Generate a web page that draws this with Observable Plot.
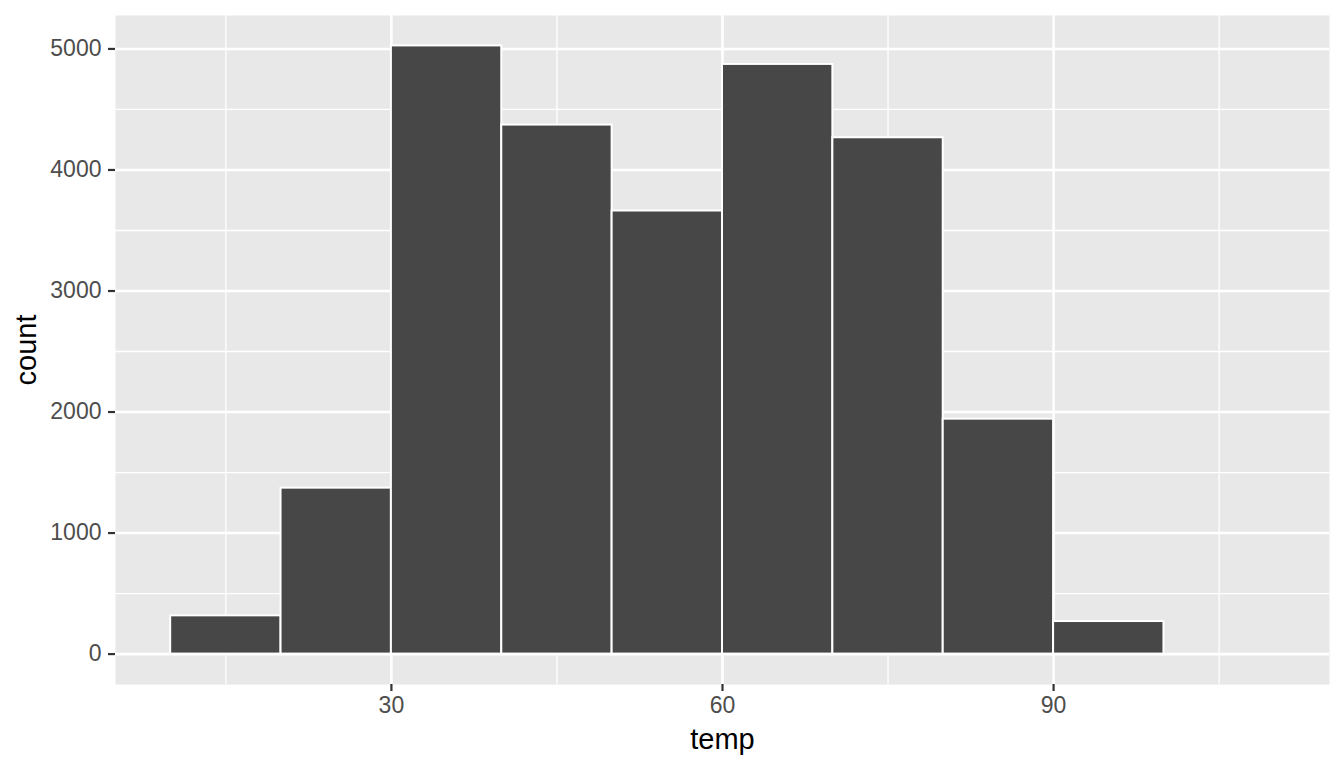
<!DOCTYPE html>
<html>
<head>
<meta charset="utf-8">
<script src="https://cdn.jsdelivr.net/npm/d3@7"></script>
<script src="https://cdn.jsdelivr.net/npm/@observablehq/plot@0.6"></script>
<style>
  html, body { margin: 0; padding: 0; background: #ffffff; }
  #chart svg { display: block; }
</style>
</head>
<body>
<div id="chart"></div>
<script>
// Histogram bins (temp) and counts
const binEdges = [10, 20, 30, 40, 50, 60, 70, 80, 90, 100];
const counts = [316, 1371, 5025, 4371, 3661, 4872, 4266, 1941, 269];

// Axis breaks
const xMajor = [30, 60, 90];
const xMinor = [15, 45, 75, 105];
const yMajor = [0, 1000, 2000, 3000, 4000, 5000];
const yMinor = [500, 1500, 2500, 3500, 4500];

const xTitle = "temp";
const yTitle = "count";

const bins = counts.map((c, i) => ({x1: binEdges[i], x2: binEdges[i + 1], count: c}));

// ggplot-style expansion: 5% on each side
const xMin = binEdges[0], xMax = binEdges[binEdges.length - 1] + 10;
const xPad = (xMax - xMin) * 0.05;
const yMax = d3.max(counts);
const yPad = yMax * 0.05;

const font = "'Liberation Sans', Arial, Helvetica, sans-serif";

const chart = Plot.plot({
  width: 1344,
  height: 768,
  marginLeft: 115,
  marginRight: 15,
  marginTop: 15,
  marginBottom: 84,
  style: {fontFamily: font, background: "#ffffff", overflow: "visible"},
  x: {domain: [xMin - xPad, xMax + xPad]},
  y: {domain: [-yPad, yMax + yPad]},
  marks: [
    Plot.frame({fill: "#E8E8E8", stroke: null}),
    Plot.ruleY(yMinor, {stroke: "#ffffff", strokeWidth: 1.3}),
    Plot.ruleX(xMinor, {stroke: "#ffffff", strokeWidth: 1.3}),
    Plot.ruleY(yMajor, {stroke: "#ffffff", strokeWidth: 2.6}),
    Plot.ruleX(xMajor, {stroke: "#ffffff", strokeWidth: 2.6}),
    Plot.rect(bins, {x1: "x1", x2: "x2", y1: 0, y2: "count", fill: "#474747", stroke: "#ffffff", strokeWidth: 2}),
    Plot.axisX({ticks: xMajor, tickSize: 7, tickPadding: 5, fontSize: 23, stroke: "#333333", strokeWidth: 2.2, color: "#4D4D4D", label: null, tickFormat: d => String(d)}),
    Plot.axisY({ticks: yMajor, tickSize: 7, tickPadding: 7, fontSize: 23, stroke: "#333333", strokeWidth: 2.2, color: "#4D4D4D", label: null, tickFormat: d => String(d)}),
    Plot.text([xTitle], {frameAnchor: "bottom", dy: 55, text: d => d, fontSize: 29, fill: "#000000", lineAnchor: "middle", textAnchor: "middle"}),
    Plot.text([yTitle], {frameAnchor: "left", dx: -89, text: d => d, fontSize: 29, fill: "#000000", rotate: -90, lineAnchor: "middle", textAnchor: "middle"})
  ]
});

document.getElementById("chart").appendChild(chart);
</script>
</body>
</html>
